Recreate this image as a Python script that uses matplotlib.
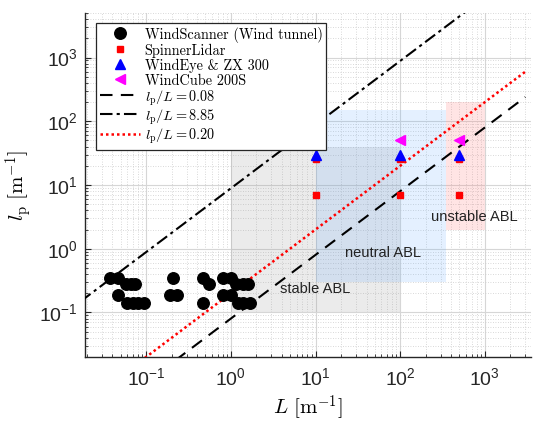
import numpy as np
import matplotlib
matplotlib.use("Agg")
import matplotlib.pyplot as plt
from matplotlib.patches import Rectangle

plt.rcParams['font.family'] = ['Liberation Sans', 'DejaVu Sans']
plt.rcParams['mathtext.fontset'] = 'cm'

# WindScanner (wind tunnel) data
ws_L = [0.038, 0.046, 0.21, 0.47, 0.82, 1.0,
        0.058, 0.066, 0.074, 0.56, 1.15, 1.4, 1.6,
        0.046, 0.19, 0.23, 0.82, 1.0,
        0.060, 0.070, 0.080, 0.095, 0.47, 1.2, 1.4, 1.7]
ws_lp = [0.35, 0.35, 0.35, 0.35, 0.35, 0.35,
         0.28, 0.28, 0.28, 0.28, 0.28, 0.28, 0.28,
         0.19, 0.19, 0.19, 0.19, 0.19,
         0.14, 0.14, 0.14, 0.14, 0.14, 0.14, 0.14, 0.14]

spinner_L = [10, 10, 100, 100, 500, 500]
spinner_lp = [7, 26, 7, 26, 7, 26]

windeye_L = [10, 100, 500]
windeye_lp = [30, 30, 30]

windcube_L = [100, 500]
windcube_lp = [50, 50]

ratios = [0.08, 8.85, 0.20]
ratio_labels = [r'$l_\mathrm{p}/L = 0.08$', r'$l_\mathrm{p}/L = 8.85$', r'$l_\mathrm{p}/L = 0.20$']
line_L = [0.01, 3000]

# regions: (L_min, L_max, lp_min, lp_max)
regions = {
    'stable ABL': (1, 100, 0.1, 40),
    'neutral ABL': (10, 350, 0.3, 150),
    'unstable ABL': (350, 1000, 2, 200),
}
region_colors = {'stable ABL': (0.55, 0.55, 0.55, 0.17),
                 'neutral ABL': (0.35, 0.65, 1.0, 0.16),
                 'unstable ABL': (1.0, 0.45, 0.45, 0.19)}
region_text_pos = {'stable ABL': (3.8, 0.235),
                   'neutral ABL': (22, 0.87),
                   'unstable ABL': (230, 3.2)}

fig = plt.figure(figsize=(5.35, 4.22), dpi=100)
ax = fig.add_axes([85/535, (422-357)/422, 446/535, 344/422])
ax.set_xscale('log')
ax.set_yscale('log')

for name, (x0, x1, y0, y1) in regions.items():
    ax.add_patch(Rectangle((x0, y0), x1 - x0, y1 - y0, facecolor=region_colors[name],
                           edgecolor='none', zorder=1))
    tx, ty = region_text_pos[name]
    ax.text(tx, ty, name, fontsize=10.5, color='#222222', va='center', ha='left', zorder=2)

h_ws, = ax.plot(ws_L, ws_lp, 'o', color='black', ms=8.3, ls='none', zorder=5,
                label='WindScanner (Wind tunnel)')
h_sp, = ax.plot(spinner_L, spinner_lp, 's', color='red', ms=5, ls='none', zorder=5,
                label='SpinnerLidar')
h_we, = ax.plot(windeye_L, windeye_lp, '^', color='blue', ms=7.5, ls='none', zorder=6,
                label='WindEye & ZX 300')
h_wc, = ax.plot(windcube_L, windcube_lp, '<', color='magenta', ms=7.5, ls='none', zorder=6,
                label='WindCube 200S')

styles = [dict(color='black', ls=(0, (6, 4)), lw=1.5),
          dict(color='black', ls=(0, (6, 2, 1.5, 2)), lw=1.5),
          dict(color='red', ls=(0, (1, 1.2)), lw=1.8)]
line_handles = []
for r, lab, st in zip(ratios, ratio_labels, styles):
    Ls = np.array(line_L, dtype=float)
    h, = ax.plot(Ls, r * Ls, label=lab, zorder=4, **st)
    line_handles.append(h)

ax.set_xlim(0.019, 3500)
ax.set_ylim(0.02, 5000)

ax.grid(True, which='major', color='#d6d6d6', lw=0.8, ls='-')
ax.grid(True, which='minor', color='#cccccc', lw=0.6, ls=(0, (1, 2)))
ax.set_axisbelow(True)

for s in ['top', 'right']:
    ax.spines[s].set_visible(False)
for s in ['left', 'bottom']:
    ax.spines[s].set_color('#262626')
    ax.spines[s].set_linewidth(1.0)

ax.tick_params(which='both', direction='in', colors='#262626', labelsize=14)
ax.tick_params(which='major', length=4)
ax.tick_params(which='minor', length=2.5)
ax.tick_params(axis='x', which='major', pad=7)
ax.tick_params(axis='y', which='major', pad=5)
ax.xaxis.set_minor_locator(matplotlib.ticker.LogLocator(base=10, subs=np.arange(2, 10), numticks=20))
ax.yaxis.set_minor_locator(matplotlib.ticker.LogLocator(base=10, subs=np.arange(2, 10), numticks=20))
ax.xaxis.set_minor_formatter(matplotlib.ticker.NullFormatter())
ax.yaxis.set_minor_formatter(matplotlib.ticker.NullFormatter())
for lbl in ax.get_xticklabels() + ax.get_yticklabels():
    lbl.set_color('#262626')

ax.set_xlabel(r'$L\ [\mathrm{m}^{-1}]$', fontsize=15, labelpad=3)
ax.set_ylabel(r'$l_\mathrm{p}\ [\mathrm{m}^{-1}]$', fontsize=15)

leg = ax.legend(handles=[h_ws, h_sp, h_we, h_wc] + line_handles,
                loc='upper left', bbox_to_anchor=((96-85)/446, (357-23)/344),
                prop={'family': 'cmr10', 'size': 10.3}, frameon=True, fancybox=False, framealpha=1,
                edgecolor='#262626', handlelength=2.8, handletextpad=0.35,
                handleheight=1.2, borderpad=0.25, labelspacing=0.0, borderaxespad=0)
leg.get_frame().set_linewidth(0.9)
leg.set_zorder(10)

fig.savefig('out.png', dpi=100)
